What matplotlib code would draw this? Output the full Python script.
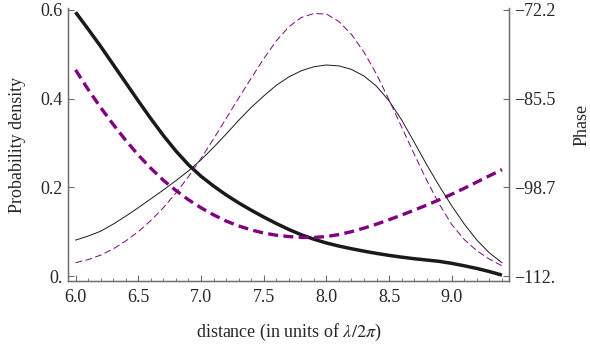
import matplotlib
matplotlib.use("Agg")
import matplotlib.pyplot as plt
from matplotlib.ticker import MultipleLocator

# =========================
# Data
# =========================

distance = [6.0, 6.1, 6.2, 6.3, 6.4, 6.5, 6.6, 6.7, 6.8, 6.9,
            7.0, 7.1, 7.2, 7.3, 7.4, 7.5, 7.6, 7.7, 7.8, 7.9,
            8.0, 8.1, 8.2, 8.3, 8.4, 8.5, 8.6, 8.7, 8.8, 8.9,
            9.0, 9.1, 9.2, 9.3, 9.4]

# probability density (left axis)
density_black = [0.595, 0.557, 0.518, 0.477, 0.436, 0.395, 0.355, 0.317, 0.282, 0.251,
                 0.225, 0.203, 0.183, 0.165, 0.1485, 0.133, 0.1185, 0.105, 0.093, 0.083,
                 0.0745, 0.0675, 0.0615, 0.056, 0.051, 0.0465, 0.0425, 0.039, 0.036, 0.033,
                 0.0285, 0.023, 0.017, 0.010, 0.002]

density_purple = [0.465, 0.421, 0.380, 0.342, 0.306, 0.273, 0.243, 0.216, 0.193, 0.172,
                  0.154, 0.138, 0.124, 0.113, 0.104, 0.097, 0.092, 0.089, 0.087, 0.087,
                  0.089, 0.0935, 0.100, 0.108, 0.117, 0.127, 0.1375, 0.1485, 0.160, 0.172,
                  0.1845, 0.198, 0.212, 0.226, 0.240]

# phase (right axis)
phase_black = [-106.63, -106.03, -105.30, -104.24, -103.05, -101.78, -100.46, -99.13, -97.74, -96.28,
               -94.62, -92.76, -90.77, -88.72, -86.79, -85.07, -83.48, -82.22, -81.29, -80.69,
               -80.43, -80.56, -81.09, -82.08, -83.61, -85.80, -88.65, -91.97, -95.35, -98.53,
               -101.52, -104.24, -106.63, -108.55, -110.01]

phase_purple = [-110.01, -109.55, -108.88, -107.95, -106.76, -105.37, -103.71, -101.78, -99.60, -97.14,
                -94.42, -91.50, -88.45, -85.40, -82.42, -79.50, -76.84, -74.72, -73.33, -72.73,
                -72.80, -73.92, -75.85, -78.50, -81.82, -85.67, -89.71, -93.76, -97.67, -101.25,
                -104.31, -106.56, -108.22, -109.48, -110.47]

x_ticks = [6.0, 6.5, 7.0, 7.5, 8.0, 8.5, 9.0]
x_tick_labels = ["6.0", "6.5", "7.0", "7.5", "8.0", "8.5", "9.0"]
density_ticks = [0.0, 0.2, 0.4, 0.6]
density_tick_labels = ["0.", "0.2", "0.4", "0.6"]
phase_ticks = [-112.0, -98.73, -85.47, -72.2]
phase_tick_labels = ["\u2212112.", "\u221298.7", "\u221285.5", "\u221272.2"]

# =========================
# Style
# =========================

plt.rcParams["font.family"] = ["Liberation Serif", "DejaVu Serif"]
plt.rcParams["mathtext.fontset"] = "stix"
plt.rcParams["font.size"] = 13

FRAME = "#6b6b6b"
TEXT = "#262626"
PURPLE = "#800080"

fig = plt.figure(figsize=(5.90, 3.51), dpi=100)
ax = fig.add_axes([0.1153, 0.1994, 0.7474, 0.7778])
ax2 = ax.twinx()

ylim_density = (-0.0113, 0.6045)
# right axis shares the same scale: phase = -112 + density * (39.8 / 0.6)
scale = (112.0 - 72.2) / 0.6
ax.set_ylim(*ylim_density)
ax2.set_ylim(-112.0 + ylim_density[0] * scale, -112.0 + ylim_density[1] * scale)
ax.set_xlim(5.94, 9.456)

# curves
ax.plot(distance, density_black, color="#1a1a1a", lw=2.5, solid_capstyle="butt")
ax.plot(distance, density_purple, color=PURPLE, lw=2.4, dashes=(3.0, 1.6))
ax2.plot(distance, phase_black, color="#1a1a1a", lw=0.7)
ax2.plot(distance, phase_purple, color=PURPLE, lw=0.7, dashes=(7.0, 3.5))

# frame
for a in (ax, ax2):
    a.spines["top"].set_visible(False)
    for side in ("left", "right", "bottom"):
        a.spines[side].set_color(FRAME)
        a.spines[side].set_linewidth(0.9)

ax.set_xticks(x_ticks)
ax.set_xticklabels(x_tick_labels)
ax.xaxis.set_minor_locator(MultipleLocator(0.1))
ax.set_yticks(density_ticks)
ax.set_yticklabels(density_tick_labels)
ax2.set_yticks(phase_ticks)
ax2.set_yticklabels(phase_tick_labels)

ax.tick_params(axis="x", which="major", direction="in", length=4, width=0.8,
               color=FRAME, labelcolor=TEXT, pad=6)
ax.tick_params(axis="x", which="minor", direction="in", length=2.2, width=0.6, color=FRAME)
ax.tick_params(axis="y", which="major", direction="in", length=4, width=0.8,
               color=FRAME, labelcolor=TEXT, pad=4)
ax2.tick_params(axis="y", which="major", direction="in", length=4, width=0.8,
                color=FRAME, labelcolor=TEXT, pad=4)

ax.set_xlabel(r"distance (in units of $\lambda/2\pi$)", color=TEXT, labelpad=11)
ax.set_ylabel("Probability density", color=TEXT, labelpad=10)
ax2.set_ylabel("Phase", color=TEXT)
ax2.yaxis.set_label_coords(1.146, 0.57)

fig.savefig("out.png", dpi=100)
